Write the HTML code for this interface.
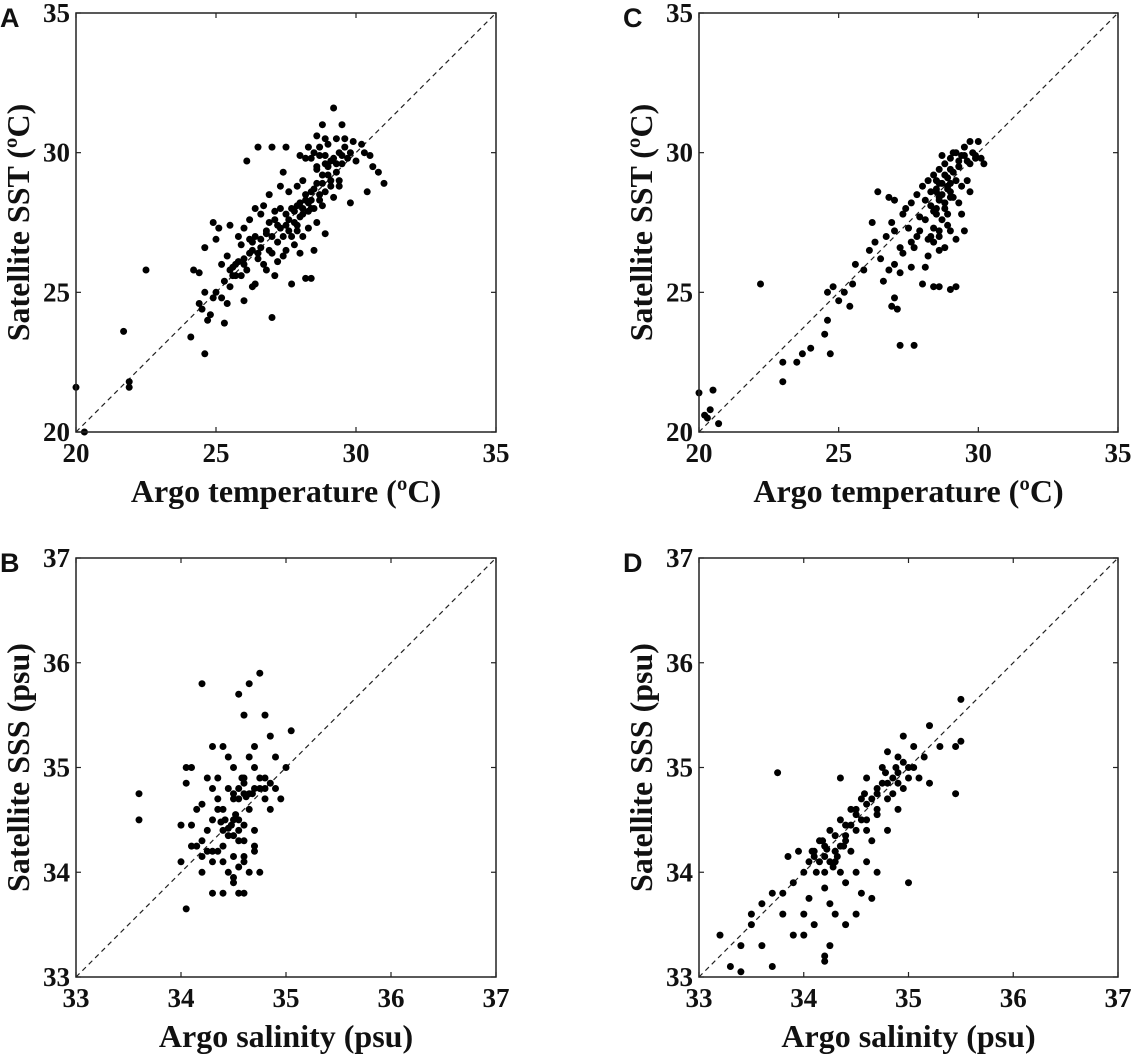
<!DOCTYPE html>
<html><head><meta charset="utf-8">
<style>
html,body{margin:0;padding:0;background:#fff;}
svg{display:block;}
.tick{font-family:"Liberation Serif",serif;font-weight:bold;font-size:27px;fill:#111;}
.title{font-family:"Liberation Serif",serif;font-weight:bold;font-size:32px;fill:#111;}
.letter{font-family:"Liberation Sans",sans-serif;font-weight:bold;font-size:27px;fill:#111;}
</style></head>
<body>
<svg id="fig" width="1135" height="1061" viewBox="0 0 1135 1061" xmlns="http://www.w3.org/2000/svg"></svg>
<script>
// ---- data ----
const tempTicks = [20, 25, 30, 35];
const salTicks = [33, 34, 35, 36, 37];
const panelAx = [20,20.3,21.7,21.9,21.9,22.5,24.1,24.6,24.5,24.6,24.4,24.6,25,24.9,24.2,24.4,24.8,25.3,25.6,26,27,26.4,25,25.2,25.3,25.5,25.6,25.8,25.4,25.9,26,26.2,26.1,26.3,26.5,26.4,26.6,26.8,26.7,26.9,27,27.1,27.2,27.3,27.4,27.5,27.6,27.7,27.8,27.9,28,28.1,28.2,28.3,28.4,28.5,28.6,28.7,28.8,28.9,29,29.1,29.2,29.3,29.4,29.5,29.6,29.7,29.8,30,30.2,30.5,30.6,30.4,31,30.8,29.2,28.8,28.6,28.9,28.3,28.5,28.4,28.7,29,29.3,29.6,27.5,27,26.5,27.4,26.1,26.4,26.7,27.1,27.3,28.1,28.3,28.5,28.9,28,28.2,28.4,27.7,27.2,27.5,27.8,27,26.2,25.8,25.5,25.1,25.9,26,26.6,26.9,27.6,27.3,27.9,28.1,28.6,28.9,29.4,29.8,29.2,28.8,28.6,27.7,26.5,25.7,25.2,24.9,24.7,25.4,26.3,26.8,27.1,29.9,30.3,29.5,
  27.8,27.9,28.0,28.1,28.2,28.3,28.4,28.5,28.7,28.8,29.0,29.1,29.3,29.4,28.6,28.9,27.6,27.4,27.2,26.8,26.6,26.3,26.0,25.7,25.5,28.2,28.0,28.7,29.1,29.5,26.2,26.9,27.5,27.9,28.4];
const panelAy = [21.6,20,23.6,21.8,21.6,25.8,23.4,22.8,24.4,25,25.7,26.6,26.9,27.5,25.8,24.6,24.2,23.9,25.6,24.7,24.1,25.3,25,24.8,25.4,25.2,25.9,26.1,26.3,25.6,26,26.4,25.8,26.8,26.2,27,26.6,27.2,26,26.5,27,27.6,26.8,27.3,26.3,27.8,27.2,28,27.5,27.4,28.2,27.8,28.5,27.9,28.6,28,28.9,28.3,29.2,28.6,29.5,29,29.8,29.3,30,29.6,30.2,29.8,30,29.7,30.3,29.9,29.5,28.6,28.9,29.3,31.6,31,30.6,30.5,30.2,30,29.8,29.9,30.3,30.5,30.5,30.2,30.2,30.2,29.3,29.7,28,28.1,27.9,28,27,27.3,26.5,27.1,26.4,25.5,25.5,25.3,26.1,26.5,26.7,26.4,27.6,27,27.4,27.3,26.7,27.3,27.8,28.5,28.6,28.8,28.8,29,29.4,29.6,28.8,28.2,28.4,28.1,27.5,27,26.4,25.6,26,24.8,24,24.6,25.2,25.8,25.6,30.4,30,31,
  27.9,28.1,27.7,28.0,28.3,28.2,28.0,28.7,28.5,28.9,29.2,28.8,29.6,29.0,29.5,29.9,27.6,27.0,27.4,27.1,26.9,26.5,26.2,26.0,25.8,29.8,29.9,30.2,29.7,29.9,26.9,27.5,27.4,27.2,28.3];
const panelCx = [20,20.2,20.4,20.5,20.7,20.3,22.2,23,23,23.5,23.7,24,24.5,24.7,24.6,24.6,24.8,25,25.2,25.4,25.5,25.6,25.9,26.1,26.3,26.5,26.7,26.4,26.8,26.9,27,27.2,27.3,27.4,27.5,27.6,27.8,27.9,28,28.1,28.2,28.3,28.4,28.5,28.6,28.7,28.8,28.9,29,29.1,29.2,29.3,29.4,29.5,29.6,29.7,29.8,30,30.1,28.8,28.5,28.9,29.3,29,28.6,28.3,28.4,28.6,28.8,29.2,28.2,29,29.5,29.7,28.1,27.6,27.3,27,26.8,26.6,27.2,27.6,28.1,28.6,29.2,29,27,26.9,27.1,27.2,27.7,26.2,27,27.8,28,28.4,29.4,29.6,30.2,29.9,28.7,29.1,28.9,28.6,
  28.5,28.6,28.7,28.8,28.9,29.0,29.1,28.4,28.6,28.8,29.0,29.2,28.3,28.5,28.7,29.3,29.5,29.7,29.9,28.9,28.6,28.4,28.2,27.9,27.7,28.8,28.5,29.0,29.4];
const panelCy = [21.4,20.6,20.8,21.5,20.3,20.5,25.3,21.8,22.5,22.5,22.8,23,23.5,22.8,24,25,25.2,24.7,25,24.5,25.3,26,25.8,26.5,26.8,26.2,27,28.6,28.4,27.5,27.2,26.6,27.8,28,27.3,28.2,28.5,27.7,28.8,28.3,29,28.6,29.2,28.7,29.4,28.9,29.6,29.1,29.8,29.3,30,29.5,29.9,30.2,29.7,30.4,30,30.4,29.8,28.2,28,27.8,28.2,28.4,27.2,27,26.8,26.5,26.6,26.9,26.3,27.2,27.2,28.6,27.6,26.8,26.4,26,25.8,25.4,25.7,25.9,25.9,25.2,25.2,25.1,24.8,24.5,24.4,23.1,23.1,27.5,28.3,27,25.3,25.2,27.8,29,29.6,29.9,29.9,30,28.8,28.4,
  28.6,28.3,28.5,28.2,28.7,28.9,28.4,27.9,28.9,29.2,28.6,29.0,28.1,27.8,27.6,29.7,29.9,29.6,29.8,27.4,27.0,27.3,26.9,27.2,26.6,28.0,29.0,29.4,28.8];
const panelBx = [33.6,33.6,34.05,34,34,34.05,34.1,34.1,34.15,34.2,34.2,34.2,34.25,34.3,34.3,34.3,34.35,34.35,34.4,34.4,34.4,34.45,34.45,34.5,34.5,34.5,34.55,34.55,34.55,34.6,34.6,34.6,34.6,34.65,34.65,34.7,34.7,34.7,34.75,34.75,34.8,34.8,34.8,34.85,34.9,34.95,35,35.05,34.4,34.45,34.5,34.55,34.6,34.35,34.25,34.15,34.2,34.3,34.65,34.5,34.4,34.7,34.6,34.75,34.85,34.05,34.3,34.1,34.5,34.55,34.45,34.7,34.9,34.65,
  34.55,34.6,34.65,34.5,34.58,34.62,34.52,34.48,34.42,34.38,34.45,34.55,34.6,34.5,34.7,34.8,34.35,34.25,34.3,34.2,34.4,34.6,34.55,34.75,34.85,34.68];
const panelBy = [34.75,34.5,33.65,34.1,34.45,34.85,34.25,35,34.6,35.8,34,34.3,34.9,34.5,33.8,35.2,34.2,34.7,33.8,34.4,35.2,34,34.8,34.5,35,33.9,34.3,35.7,34.7,34.1,35.5,34.9,33.8,34.6,35.1,34.4,34.8,35.2,35.9,34,35.5,34.7,34.9,35.3,34.8,34.7,35,35.35,34.6,34.35,34.75,34.5,34.45,34.9,34.2,34.25,34.65,34.1,34,34.15,34.1,35,34.75,34.8,34.6,35,34.8,34.45,33.95,33.8,35.1,34.25,35.1,35.8,
  34.8,34.85,34.75,34.7,34.9,34.72,34.55,34.45,34.5,34.48,34.42,34.4,34.3,34.35,34.2,34.8,34.6,34.4,34.2,34.15,34.25,34.15,34.05,34.9,34.85,34.75];
const panelDx = [33.2,33.3,33.4,33.4,33.5,33.5,33.6,33.6,33.7,33.7,33.75,33.8,33.8,33.9,33.9,34,34,34,34.05,34.1,34.1,34.15,34.2,34.2,34.2,34.25,34.25,34.3,34.3,34.35,34.35,34.4,34.4,34.4,34.45,34.5,34.5,34.55,34.55,34.6,34.6,34.65,34.65,34.7,34.7,34.75,34.8,34.8,34.85,34.9,34.9,34.95,35,35,35.05,35.1,35.15,35.2,35.2,35.3,35.45,35.45,35.5,35.5,34.1,34.2,34.3,34.4,34.5,34.6,34.7,34.8,34.9,34.35,34.45,34.6,34.2,34.15,34.3,34.5,34.7,34.8,34.95,33.95,33.85,34.25,34.05,
  34.2,34.25,34.3,34.28,34.22,34.32,34.18,34.35,34.4,34.5,34.55,34.65,34.75,34.85,34.9,35.0,34.7,34.6,34.45,34.12,34.08,34.38,34.58,34.78,34.88,35.05,34.95];
const panelDy = [33.4,33.1,33.05,33.3,33.6,33.5,33.7,33.3,33.8,33.1,34.95,33.6,33.8,33.4,33.9,34,33.6,33.4,34.1,33.5,34.2,34.3,34,33.2,33.15,34.4,33.7,34.2,34.1,34.5,34.9,34.3,33.9,33.5,34.6,34.4,34,34.7,33.8,34.5,34.9,34.3,33.75,34.8,34.6,35,34.7,34.4,34.9,35.1,34.6,34.8,35,33.9,35.2,34.9,35.1,35.4,34.85,35.2,35.2,34.75,35.65,35.25,34.15,34.25,34.35,34.45,34.55,34.65,34.75,34.85,34.95,34,34.2,34.1,33.85,34.1,33.6,33.6,34,35.15,35.3,34.2,34.15,33.3,33.75,
  34.15,34.1,34.2,34.05,34.22,34.15,34.3,34.25,34.35,34.6,34.5,34.7,34.85,34.75,34.85,34.9,34.55,34.4,34.45,34.0,34.2,34.25,34.75,34.95,35.0,35.0,35.05];

const NS = "http://www.w3.org/2000/svg";
const svg = document.getElementById('fig');
function el(tag, attrs, parent){
  const e = document.createElementNS(NS, tag);
  for (const k in attrs) e.setAttribute(k, attrs[k]);
  (parent||svg).appendChild(e);
  return e;
}
const panels = [
  {id:'a', letter:'A', L:76, T:13, W:420, H:419, min:20, max:35, ticks:tempTicks, xs:panelAx, ys:panelAy, xt:'Argo temperature (ºC)', yt:'Satellite SST (ºC)'},
  {id:'c', letter:'C', L:699, T:13, W:419, H:419, min:20, max:35, ticks:tempTicks, xs:panelCx, ys:panelCy, xt:'Argo temperature (ºC)', yt:'Satellite SST (ºC)'},
  {id:'b', letter:'B', L:76, T:558, W:420, H:419, min:33, max:37, ticks:salTicks, xs:panelBx, ys:panelBy, xt:'Argo salinity (psu)', yt:'Satellite SSS (psu)'},
  {id:'d', letter:'D', L:699, T:558, W:419, H:419, min:33, max:37, ticks:salTicks, xs:panelDx, ys:panelDy, xt:'Argo salinity (psu)', yt:'Satellite SSS (psu)'}
];
panels.forEach(p=>{
  const g = el('g', {});
  
  
  const sx = v => p.L + (v - p.min) / (p.max - p.min) * p.W;
  const sy = v => p.T + p.H - (v - p.min) / (p.max - p.min) * p.H;
  const ln = el('line', {x1:sx(p.min), y1:sy(p.min), x2:sx(p.max), y2:sy(p.max), stroke:'#222', 'stroke-width':1.2, 'stroke-dasharray':'5,4'}, g);
  
  
  const pg = el('g', {fill:'#000'}, g);
  
  
  for (let i=0;i<p.xs.length;i++){
    const c = el('circle', {cx:sx(p.xs[i]).toFixed(1), cy:sy(p.ys[i]).toFixed(1), r:3.5}, pg);
    
    
  }
  const fr = el('rect', {x:p.L, y:p.T, width:p.W, height:p.H, fill:'none', stroke:'#222', 'stroke-width':1.5}, g);
  
  
  p.ticks.forEach(t=>{
    const x = sx(t), y = sy(t);
    el('line', {x1:x, y1:p.T+p.H, x2:x, y2:p.T+p.H-5, stroke:'#222', 'stroke-width':1.2}, g);
    el('line', {x1:x, y1:p.T, x2:x, y2:p.T+5, stroke:'#222', 'stroke-width':1.2}, g);
    el('line', {x1:p.L, y1:y, x2:p.L+5, y2:y, stroke:'#222', 'stroke-width':1.2}, g);
    el('line', {x1:p.L+p.W, y1:y, x2:p.L+p.W-5, y2:y, stroke:'#222', 'stroke-width':1.2}, g);
    const xl = el('text', {x:x, y:p.T+p.H+30, 'text-anchor':'middle', class:'tick'}, g);
    xl.textContent = t;
    
    
    const yl = el('text', {x:p.L-6, y:y+9, 'text-anchor':'end', class:'tick'}, g);
    yl.textContent = t;
    
    
  });
  const xt = el('text', {x:p.L+p.W/2, y:p.T+p.H+70, 'text-anchor':'middle', class:'title'}, g);
  xt.textContent = p.xt;
  
  
  const cx = p.L - 47, cy = p.T + p.H/2;
  const yt = el('text', {x:cx, y:cy, 'text-anchor':'middle', class:'title', transform:'rotate(-90 '+cx+' '+cy+')'}, g);
  yt.textContent = p.yt;
  
  
  const lt = el('text', {x:p.L-76, y:p.T+14, class:'letter'}, g);
  lt.textContent = p.letter;
  
  
});
</script>
</body></html>
